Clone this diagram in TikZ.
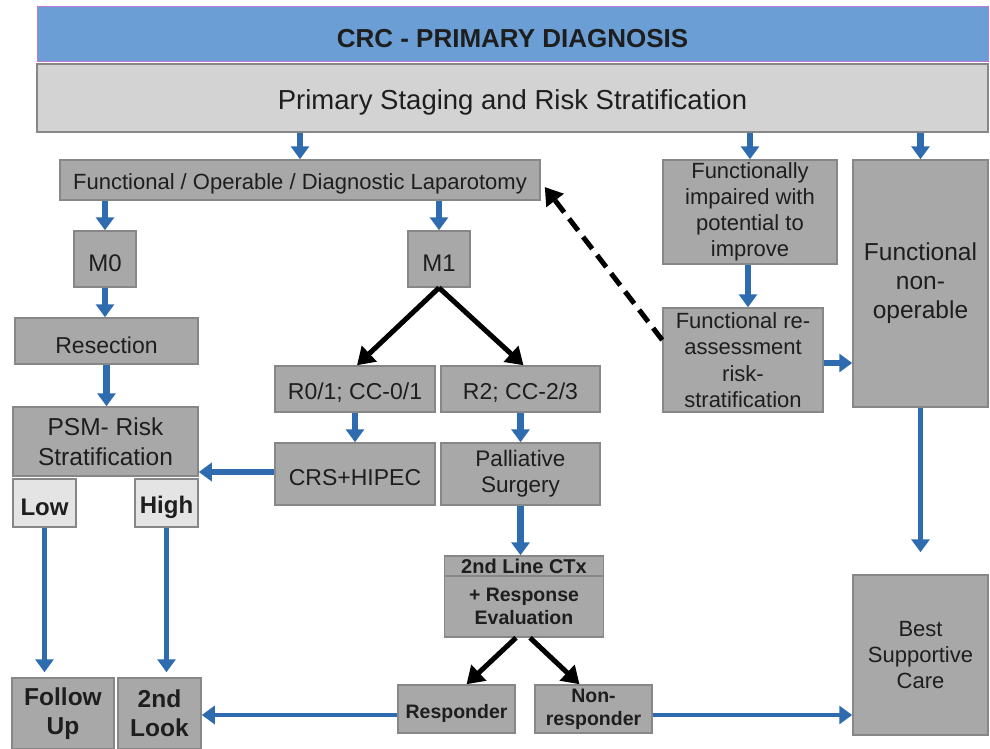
\documentclass[tikz,border=0pt]{standalone}
\usepackage{fontspec}
\setmainfont{Liberation Sans}
\usetikzlibrary{arrows.meta}

\definecolor{titleblue}{RGB}{106,158,213}
\definecolor{titleline}{RGB}{190,120,220}
\definecolor{boxgray}{RGB}{168,168,168}
\definecolor{palegray}{RGB}{211,211,211}
\definecolor{lightgray}{RGB}{228,228,228}
\definecolor{boxline}{RGB}{135,135,135}
\definecolor{flowblue}{RGB}{46,107,175}
\definecolor{textdark}{RGB}{30,30,30}

\newcommand{\fs}[2]{\fontsize{#1}{#2}\selectfont}
\newcommand{\sunk}[1]{\raisebox{-4pt}[\height][\depth]{#1}}

\begin{document}
\begin{tikzpicture}[x=1pt, y=-1pt,
    sz/.style 2 args={minimum width=#1pt, minimum height=#2pt},
    box/.style={draw=boxline, fill=boxgray, line width=1.5pt, align=center, inner sep=0pt, text=textdark},
    palebox/.style={box, fill=palegray},
    lightbox/.style={box, fill=lightgray},
    flow/.style={draw=flowblue, line width=6.5pt, -{Triangle[width=18pt,length=13pt]}},
    longflow/.style={flow, line width=4.5pt},
    decide/.style={line width=5pt, -{Triangle[width=21pt,length=17pt]}},
]
    \useasboundingbox (0,0) rectangle (990,749);

    % Header
    \node[box, fill=titleblue, draw=titleline, line width=1pt, sz={951}{55}, font=\fs{26}{30}\bfseries] (title) at (512.5,34.5) {\sunk{CRC - PRIMARY DIAGNOSIS}};
    \node[palebox, sz={951}{68}, font=\fs{27.5}{32}] (stage) at (512.5,98) {\sunk{Primary Staging and Risk Stratification}};

    % Operable branch
    \node[box, sz={480}{40}, font=\fs{22}{26}] (func) at (300,180) {\sunk{Functional / Operable / Diagnostic Laparotomy}};
    \node[box, sz={62}{56}, font=\fs{24}{28}] (m0) at (105,259) {\sunk{M0}};
    \node[box, sz={62}{56}, font=\fs{24}{28}] (m1) at (439,259) {\sunk{M1}};
    \node[box, sz={183}{46}, font=\fs{23}{27}] (res) at (106.5,341) {\sunk{Resection}};
    \node[box, sz={185}{69}, font=\fs{24.5}{30}] (psm) at (105.5,441.5) {PSM- Risk\\Stratification};
    \node[lightbox, sz={63}{48}, font=\fs{24}{28}\bfseries] (low) at (44.5,503) {\sunk{Low}};
    \node[lightbox, sz={63}{48}, font=\fs{24}{28}\bfseries] (high) at (166.5,503) {\sunk{High}};
    \node[box, sz={102}{71}, font=\fs{24.5}{29}\bfseries] (follow) at (63,713.5) {Follow\\Up};
    \node[box, sz={83}{71}, font=\fs{24.5}{29}\bfseries] (look) at (159.5,713.5) {2nd\\Look};

    % M1 branch
    \node[box, sz={160}{46}, font=\fs{23}{27}] (r01) at (355,389) {\sunk{R0/1; CC-0/1}};
    \node[box, sz={159}{46}, font=\fs{23}{27}] (r2) at (520.5,389) {\sunk{R2; CC-2/3}};
    \node[box, sz={160}{62}, font=\fs{23}{27}] (crs) at (355,474) {\sunk{CRS+HIPEC}};
    \node[box, sz={159}{62}, font=\fs{22.5}{26}] (pall) at (520.5,474) {Palliative\\Surgery};
    \node[box, sz={159}{20}, font=\fs{20}{22}\bfseries] (ctxh) at (524,566) {2nd Line CTx};
    \node[box, sz={159}{61}, font=\fs{19.5}{23.5}\bfseries] (ctx) at (524,606.5) {+ Response\\Evaluation};
    \node[box, sz={117}{48}, font=\fs{19.5}{23}\bfseries] (resp) at (456.5,709) {\sunk{Responder}};
    \node[box, sz={117}{48}, font=\fs{19.5}{23}\bfseries] (nonresp) at (593.5,709) {Non-\\responder};

    % Impaired / non-operable
    \node[box, sz={174}{104}, font=\fs{22}{26}] (impaired) at (750,212) {Functionally\\impaired with\\potential to\\improve};
    \node[box, sz={160}{104}, font=\fs{22}{26.5}] (reass) at (743,360) {Functional re-\\assessment\\risk-\\stratification};
    \node[box, sz={135}{247}, font=\fs{24.5}{29}] (nonop) at (920.5,283.5) {Functional\\non-\\operable};
    \node[box, sz={135}{160}, font=\fs{22}{26}] (bsc) at (920.5,655) {Best\\Supportive\\Care};

    % Blue connectors
    \draw[flow] (stage.south -| func) -- (func.north);
    \draw[flow] (stage.south -| impaired) -- (impaired.north);
    \draw[flow] (stage.south -| nonop) -- (nonop.north);
    \draw[flow] (func.south -| m0) -- (m0.north);
    \draw[flow] (func.south -| m1) -- (m1.north);
    \draw[flow] (m0.south) -- (m0.south |- res.north);
    \draw[flow] (res.south) -- (res.south |- psm.north);
    \draw[longflow, shorten >=5pt] (low.south) -- (low.south |- follow.north);
    \draw[longflow, shorten >=5pt] (high.south) -- (high.south |- look.north);
    \draw[flow] (r01.south) -- (crs.north);
    \draw[flow] (r2.south) -- (pall.north);
    \draw[flow] ([yshift=2pt]crs.west) -- ([yshift=2pt]crs.west -| psm.east);
    \draw[flow] (pall.south) -- (pall.south |- ctxh.north);
    \draw[longflow] ([yshift=-6pt]resp.west) -- ([yshift=-6pt]resp.west -| look.east);
    \draw[longflow] ([yshift=-6pt]nonresp.east) -- ([yshift=-6pt]nonresp.east -| bsc.west);
    \draw[flow] ([xshift=-2pt]impaired.south) -- ([xshift=-2pt]impaired.south |- reass.north);
    \draw[flow] ([yshift=-3pt]reass.east) -- ([yshift=-3pt]reass.east -| nonop.west);
    \draw[longflow, shorten >=22pt] (nonop.south) -- (bsc.north);

    % Black connectors
    \draw[decide] (m1.south) -- ([xshift=2pt]r01.north);
    \draw[decide] (m1.south) -- ([xshift=3pt]r2.north);
    \draw[decide] ([xshift=-8pt]ctx.south) -- ([xshift=10pt]resp.north);
    \draw[decide] ([xshift=6pt]ctx.south) -- ([xshift=-14pt]nonresp.north);
    \draw[decide, dash pattern=on 15pt off 8pt] ([yshift=20pt]reass.west) -- ([xshift=4pt,yshift=-7pt]func.east);
\end{tikzpicture}
\end{document}
